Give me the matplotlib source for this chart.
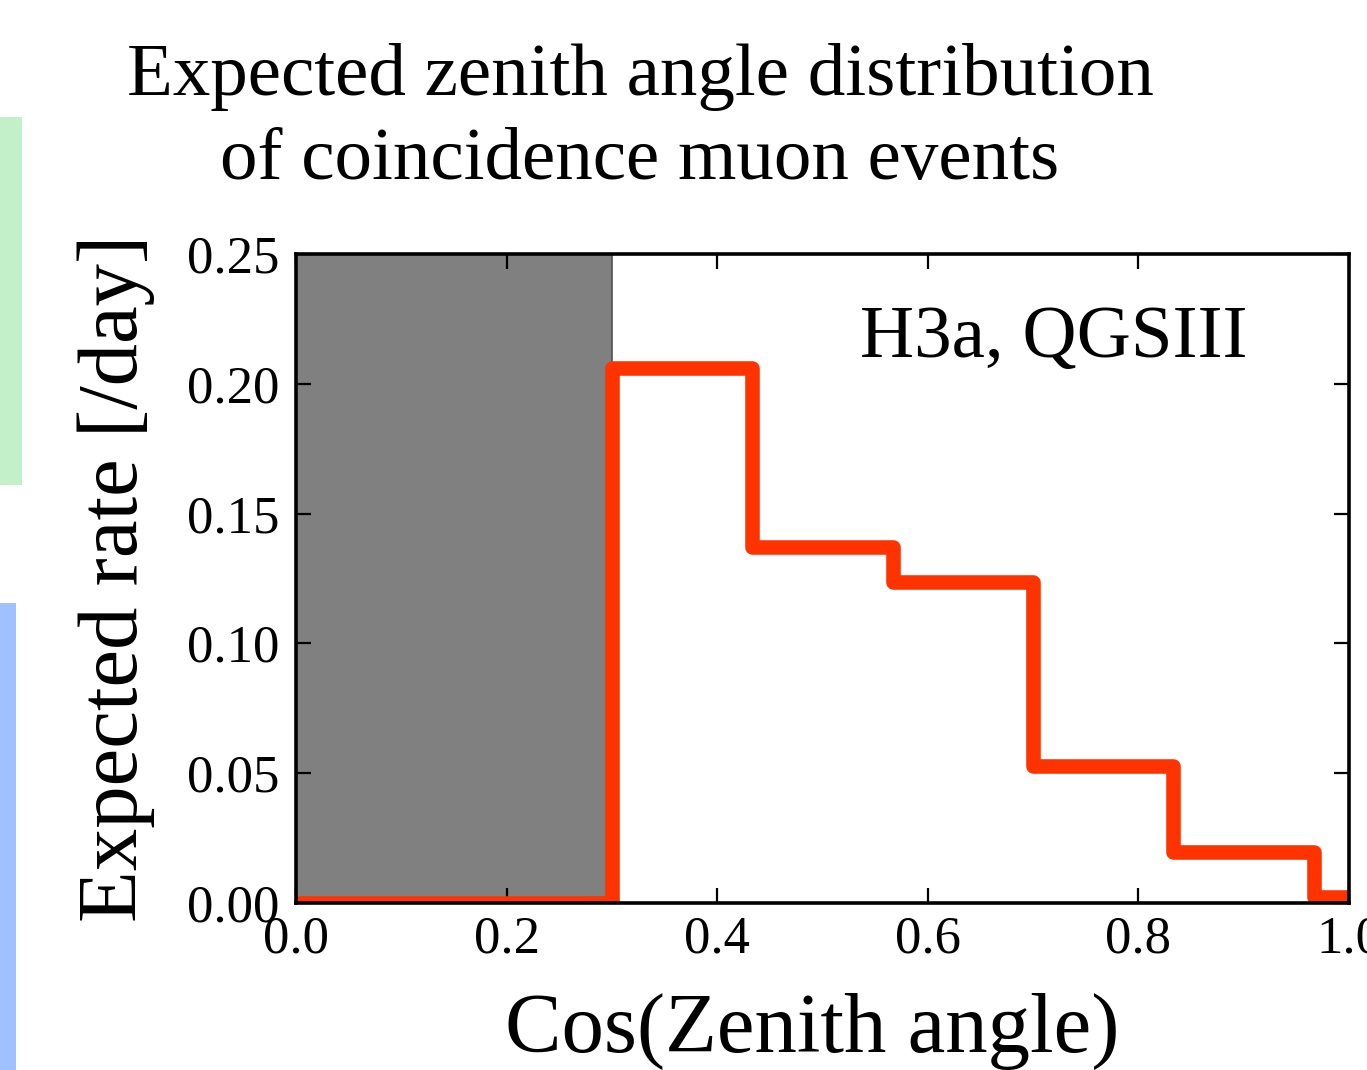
import matplotlib
matplotlib.use("Agg")
import matplotlib.pyplot as plt
from matplotlib.patches import Rectangle

# Data
bin_edges = [0.0, 0.3, 0.4333, 0.5667, 0.7, 0.8333, 0.9667, 1.1]
rates = [0.0, 0.206, 0.137, 0.1235, 0.0528, 0.0196, 0.0025]
excluded_range = [0.0, 0.3]
x_ticks = [0.0, 0.2, 0.4, 0.6, 0.8, 1.0]
y_ticks = [0.00, 0.05, 0.10, 0.15, 0.20, 0.25]

plt.rcParams['font.family'] = ['Liberation Serif', 'DejaVu Serif']
plt.rcParams['mathtext.fontset'] = 'stix'

fig = plt.figure(figsize=(13.67, 10.70), dpi=100)
ax = fig.add_axes([296/1367, 1 - 903/1070, (1349 - 296)/1367, (903 - 254)/1070])

ax.axvspan(excluded_range[0], excluded_range[1], facecolor='#808080',
           edgecolor='#505050', linewidth=1.2, zorder=1)
ax.stairs(rates, bin_edges, baseline=None, fill=False, color='#FF3300',
          linewidth=10.5, joinstyle='round', zorder=2)

ax.set_xlim(0, 1)
ax.set_ylim(0, 0.25)
ax.set_xticks(x_ticks)
ax.set_yticks(y_ticks)
ax.set_xticklabels([f"{v:.1f}" for v in x_ticks])
ax.set_yticklabels([f"{v:.2f}" for v in y_ticks])
ax.tick_params(direction='in', length=11, width=1.6, top=True, right=True,
               labelsize=38, color='black')
ax.tick_params(axis='x', pad=9)
ax.tick_params(axis='y', pad=12)
for s in ax.spines.values():
    s.set_linewidth(2.6)

ax.set_xlabel('Cos(Zenith angle)', fontsize=61, labelpad=21)
ax.xaxis.label.set_x(0.5 - 10/1053)
ax.set_ylabel('Expected rate [/day]', fontsize=61, labelpad=23)

ax.text(0.904, 0.841, 'H3a, QGSIII', transform=ax.transAxes, ha='right',
        va='baseline', fontsize=54)

fig.text(640/1367, 1 - 179/1070, 'Expected zenith angle distribution\nof coincidence muon events',
         ha='center', va='baseline', fontsize=54, linespacing=1.32,
         multialignment='center')

fig.add_artist(Rectangle((0, 1 - 485/1070), 22/1367, (485 - 117)/1070,
                         transform=fig.transFigure, facecolor='#C3F0C8', edgecolor='none'))
fig.add_artist(Rectangle((0, 0), 16/1367, (1070 - 603)/1070,
                         transform=fig.transFigure, facecolor='#A0C0FF', edgecolor='none'))

fig.savefig('out.png', dpi=100)
